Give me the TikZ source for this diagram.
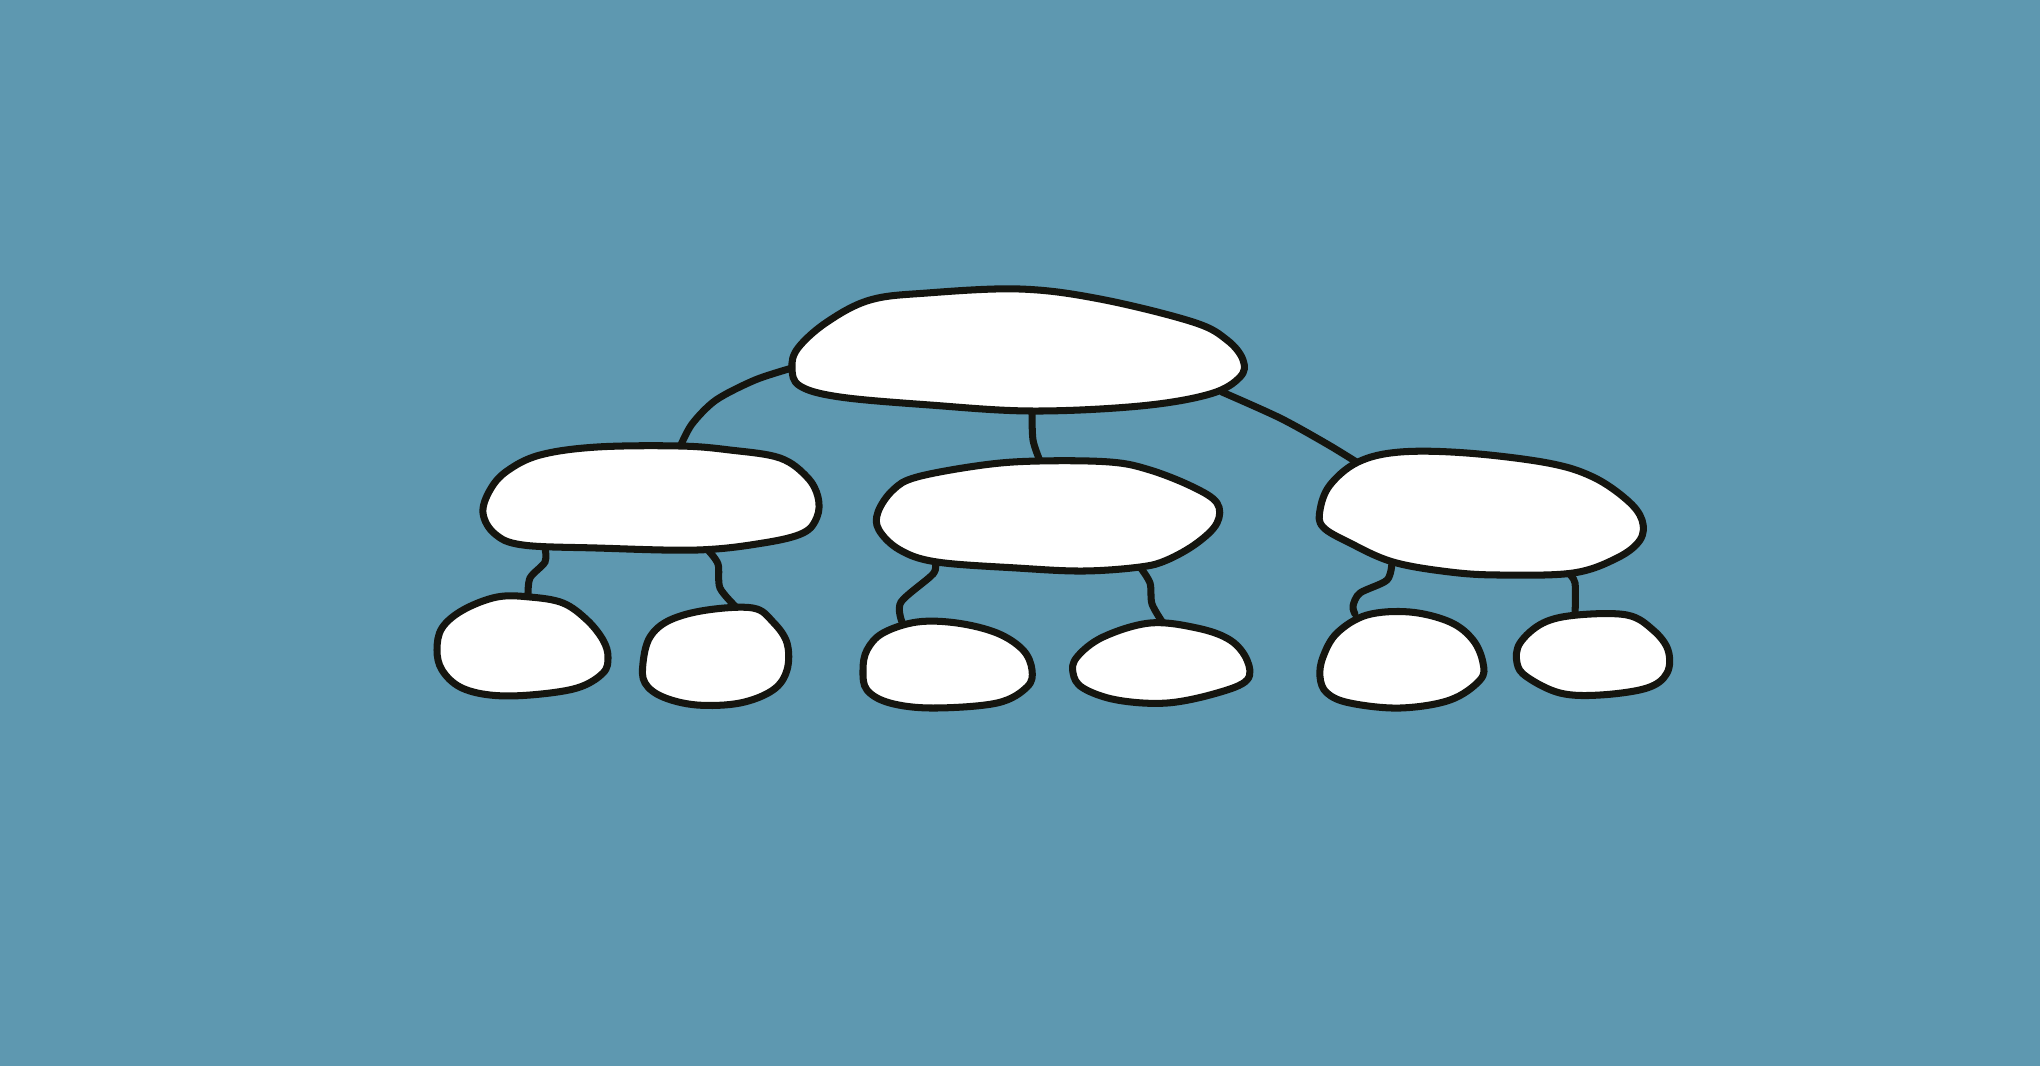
\documentclass[tikz,border=0pt]{standalone}
\definecolor{bgblue}{HTML}{5E98B0}
\definecolor{ink}{HTML}{15150F}
\begin{document}
\begin{tikzpicture}[x=0.01cm,y=-0.01cm,
  blob/.style={draw=ink,fill=white,line width=2pt,line join=round},
  link/.style={draw=ink,line width=2pt,line cap=round}]
\fill[bgblue] (0,0) rectangle (2040,1066);
\useasboundingbox (0,0) rectangle (2040,1066);
% attachment coordinates
\coordinate (tL) at (792,368);
\coordinate (tC) at (1032,411);
\coordinate (tR) at (1222,392);
\coordinate (mlT) at (680,447);
\coordinate (mcT) at (1040,461);
\coordinate (mrT) at (1358,463);
\coordinate (mlA) at (545,548);
\coordinate (mlB) at (707,549);
\coordinate (mcA) at (935,562);
\coordinate (mcB) at (1140,567);
\coordinate (mrA) at (1392,562);
\coordinate (mrB) at (1568,573);
\coordinate (b1) at (528,597);
\coordinate (b2) at (737,608);
\coordinate (b3) at (902,622);
\coordinate (b4) at (1163,623);
\coordinate (b5) at (1355,614);
\coordinate (b6) at (1575,615);
% connectors
\draw[link] plot[smooth] coordinates {(tL) (755,380) (716,400) (692,424) (mlT)};
\draw[link] plot[smooth] coordinates {(tC) (1033,440) (mcT)};
\draw[link] plot[smooth] coordinates {(tR) (1280,418) (1327,444) (mrT)};
\draw[link] plot[smooth] coordinates {(mlA) (545,562) (530,578) (b1)};
\draw[link] plot[smooth] coordinates {(mlB) (718,564) (720,588) (b2)};
\draw[link] plot[smooth] coordinates {(mcA) (933,574) (901,602) (b3)};
\draw[link] plot[smooth] coordinates {(mcB) (1150,583) (1152,604) (b4)};
\draw[link] plot[smooth] coordinates {(mrA) (1387,580) (1360,593) (1353,606) (b5)};
\draw[link] plot[smooth] coordinates {(mrB) (1575,583) (b6)};
% top blob
\draw[blob] plot[smooth cycle,tension=0.6] coordinates {(792,368) (800,386) (840,397) (930,405) (1032,411) (1140,406) (1210,394) (1240,377) (1243,360) (1227,340) (1193,322) (1100,299) (1020,289) (927,293) (870,300) (827,322) (798,348)};
% middle blobs
\draw[blob] plot[smooth cycle,tension=0.6] coordinates {(483,513) (490,490) (507,471) (540,455) (597,447) (680,446) (730,450) (780,458) (807,477) (818,497) (817,517) (803,533) (763,543) (697,550) (597,548) (523,545) (495,534)};
\draw[blob] plot[smooth cycle,tension=0.6] coordinates {(878,512) (893,490) (917,477) (983,465) (1038,461) (1110,462) (1150,470) (1193,487) (1217,503) (1217,523) (1197,543) (1167,560) (1140,567) (1083,571) (1017,568) (937,562) (900,550) (879,530)};
\draw[blob] plot[smooth cycle,tension=0.6] coordinates {(1320,510) (1330,485) (1358,462) (1400,452) (1467,453) (1548,463) (1593,477) (1627,500) (1642,520) (1640,540) (1617,558) (1573,573) (1500,575) (1450,572) (1393,562) (1350,543) (1323,527)};
% bottom blobs
\draw[blob] plot[smooth cycle,tension=0.6] coordinates {(437,650) (442,628) (463,610) (497,597) (530,597) (563,603) (587,620) (603,640) (608,657) (603,673) (577,688) (530,695) (490,695) (460,687) (442,670)};
\draw[blob] plot[smooth cycle,tension=0.6] coordinates {(643,663) (650,637) (670,620) (707,610) (753,608) (773,622) (787,643) (787,670) (773,690) (740,703) (697,705) (663,697) (645,683)};
\draw[blob] plot[smooth cycle,tension=0.6] coordinates {(863,670) (867,650) (883,633) (917,622) (957,623) (997,633) (1023,650) (1032,670) (1027,687) (997,703) (933,708) (890,703) (867,690)};
\draw[blob] plot[smooth cycle,tension=0.6] coordinates {(1073,673) (1077,657) (1103,637) (1150,623) (1197,628) (1230,640) (1247,660) (1247,680) (1217,693) (1167,703) (1117,700) (1083,688)};
\draw[blob] plot[smooth cycle,tension=0.6] coordinates {(1320,677) (1323,657) (1337,633) (1367,615) (1410,612) (1450,622) (1473,640) (1483,663) (1480,680) (1450,700) (1400,708) (1350,703) (1327,693)};
\draw[blob] plot[smooth cycle,tension=0.6] coordinates {(1517,663) (1520,643) (1543,623) (1577,615) (1627,615) (1653,630) (1668,650) (1667,673) (1647,688) (1600,695) (1560,693) (1527,677)};
\end{tikzpicture}
\end{document}
